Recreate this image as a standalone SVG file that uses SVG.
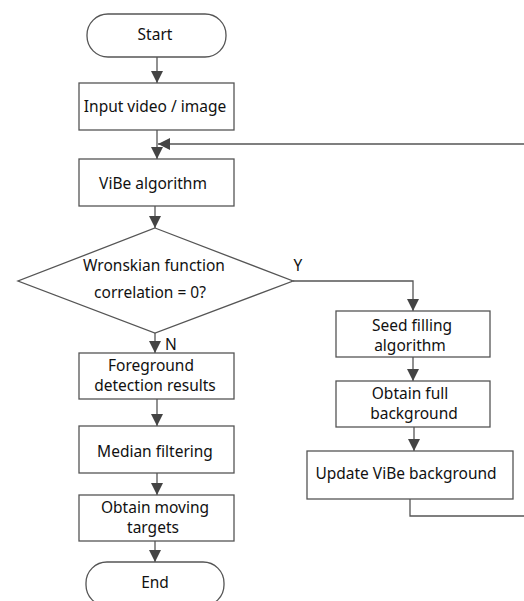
<svg xmlns="http://www.w3.org/2000/svg" width="524" height="601" viewBox="0 0 524 601">
<style>
.n{fill:#fff;stroke:#555;stroke-width:1.3}
.t{font-family:"Noto Sans","Open Sans",sans-serif;font-size:15.5px;fill:#111;text-anchor:middle}
.c{fill:none;stroke:#555;stroke-width:1.3}
</style>
<defs>
<marker id="a" viewBox="0 0 10 10" refX="10" refY="5" markerWidth="12" markerHeight="12" markerUnits="userSpaceOnUse" orient="auto">
<path d="M0,0 L10,5 L0,10 Z" fill="#444"/>
</marker>
</defs>
<rect width="524" height="601" fill="#fff"/>
<g id="connectors">
<path class="c" d="M157,57 V83" marker-end="url(#a)"/>
<path class="c" d="M157,130 V159" marker-end="url(#a)"/>
<path class="c" d="M524,144 H158" marker-end="url(#a)"/>
<path class="c" d="M155,206 V228" marker-end="url(#a)"/>
<path class="c" d="M293,281 H413 V311" marker-end="url(#a)"/>
<path class="c" d="M155,333 V353" marker-end="url(#a)"/>
<path class="c" d="M413,357 V381" marker-end="url(#a)"/>
<path class="c" d="M414,427 V451" marker-end="url(#a)"/>
<path class="c" d="M410,499 V516 H524"/>
<path class="c" d="M157,399 V426" marker-end="url(#a)"/>
<path class="c" d="M157,473 V495" marker-end="url(#a)"/>
<path class="c" d="M155,541 V562" marker-end="url(#a)"/>
</g>
<g id="start"><rect class="n" x="87" y="14" width="139" height="43" rx="21"/><text class="t" x="155" y="40">Start</text></g>
<g id="input"><rect class="n" x="79" y="83" width="155" height="47"/><text class="t" x="155" y="112">Input video / image</text></g>
<g id="vibe"><rect class="n" x="79" y="159" width="155" height="47"/><text class="t" x="153" y="189">ViBe algorithm</text></g>
<g id="decision"><polygon class="n" points="155,228 293,281 155,333 18,281"/><text class="t" x="154" y="271">Wronskian function</text><text class="t" x="150" y="298">correlation = 0?</text></g>
<text class="t" x="298" y="271">Y</text>
<text class="t" x="171" y="350">N</text>
<g id="foreground"><rect class="n" x="79" y="353" width="155" height="46"/><text class="t" x="151" y="371">Foreground</text><text class="t" x="155" y="391">detection results</text></g>
<g id="median"><rect class="n" x="79" y="426" width="155" height="47"/><text class="t" x="155" y="457">Median filtering</text></g>
<g id="moving"><rect class="n" x="79" y="495" width="155" height="46"/><text class="t" x="155" y="513">Obtain moving</text><text class="t" x="153" y="533">targets</text></g>
<g id="end"><rect class="n" x="86" y="562" width="138" height="44" rx="21"/><text class="t" x="155" y="588">End</text></g>
<g id="seed"><rect class="n" x="336" y="311" width="154" height="46"/><text class="t" x="412" y="331">Seed filling</text><text class="t" x="410" y="351">algorithm</text></g>
<g id="full"><rect class="n" x="336" y="381" width="154" height="46"/><text class="t" x="410" y="399">Obtain full</text><text class="t" x="414" y="419">background</text></g>
<g id="update"><rect class="n" x="307" y="451" width="206" height="48"/><text class="t" x="406" y="479">Update ViBe background</text></g>
</svg>
